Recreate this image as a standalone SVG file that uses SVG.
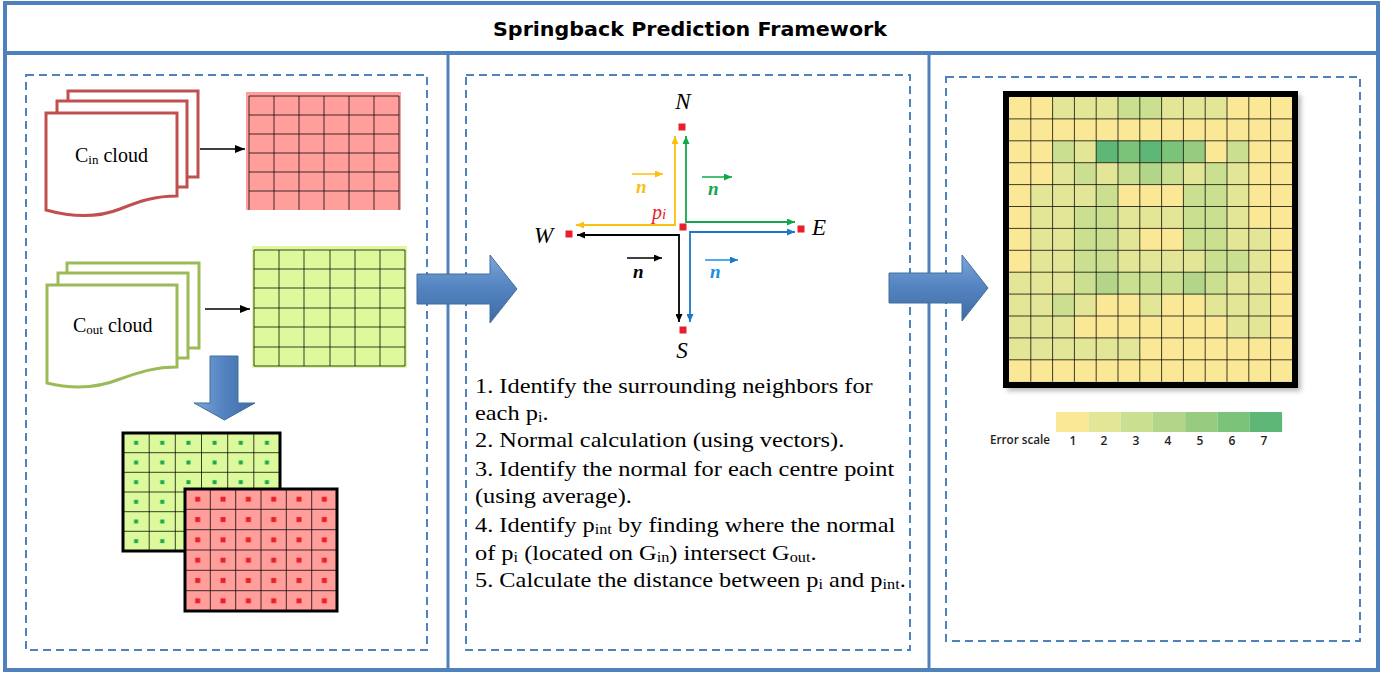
<svg xmlns="http://www.w3.org/2000/svg" width="1386" height="675" viewBox="0 0 1386 675">
<style>
.frame{fill:none;stroke:#4f81bd;stroke-width:4}
.div{stroke:#4f81bd;stroke-width:3}
.dash{fill:none;stroke:#4f81bd;stroke-width:2;stroke-dasharray:8 5}
.docr{fill:#fff;stroke:#c0504d;stroke-width:3}
.docg{fill:#fff;stroke:#9bbb59;stroke-width:3}
.gl{fill:none;stroke:#000;stroke-opacity:0.75;stroke-width:1}
.serif{font-family:"Liberation Serif","Times New Roman",serif;fill:#000}
.lbl{font-family:"Liberation Serif",serif;font-style:italic;font-size:23px;fill:#000}
.nv{font-family:"Liberation Serif",serif;font-style:italic;font-weight:bold;font-size:19px}
.sq{fill:#e8202a}
.big{fill:url(#blueH);stroke:#41719c;stroke-width:1}
.c1{fill:#fbe896}.c2{fill:#e3e697}.c3{fill:#cbdf91}.c4{fill:#b2d58a}.c5{fill:#97cc80}.c6{fill:#7cc37a}.c7{fill:#5fb777}
.leg{font-family:"Open Sans","Liberation Sans",sans-serif;font-size:12px;font-weight:600;fill:#222}
</style>
<defs>
<linearGradient id="blueH" x1="0" y1="0" x2="0" y2="1">
<stop offset="0" stop-color="#7ea6d9"/><stop offset="0.45" stop-color="#5585c2"/><stop offset="1" stop-color="#3e6ba3"/>
</linearGradient>
<linearGradient id="blueV" x1="0" y1="0" x2="1" y2="0">
<stop offset="0" stop-color="#7ea6d9"/><stop offset="0.45" stop-color="#5585c2"/><stop offset="1" stop-color="#3e6ba3"/>
</linearGradient>
<marker id="mk" viewBox="0 0 10 8" refX="10" refY="4" markerWidth="10" markerHeight="8" markerUnits="userSpaceOnUse" orient="auto"><path d="M0,0 L10,4 L0,8 z" fill="#000"/></marker>
<marker id="my" viewBox="0 0 8 7" refX="8" refY="3.5" markerWidth="8" markerHeight="7" markerUnits="userSpaceOnUse" orient="auto-start-reverse"><path d="M0,0 L8,3.5 L0,7 z" fill="#fbbf10"/></marker>
<marker id="mg" viewBox="0 0 8 7" refX="8" refY="3.5" markerWidth="8" markerHeight="7" markerUnits="userSpaceOnUse" orient="auto-start-reverse"><path d="M0,0 L8,3.5 L0,7 z" fill="#12a84a"/></marker>
<marker id="mb" viewBox="0 0 8 7" refX="8" refY="3.5" markerWidth="8" markerHeight="7" markerUnits="userSpaceOnUse" orient="auto-start-reverse"><path d="M0,0 L8,3.5 L0,7 z" fill="#000"/></marker>
<marker id="mu" viewBox="0 0 8 7" refX="8" refY="3.5" markerWidth="8" markerHeight="7" markerUnits="userSpaceOnUse" orient="auto-start-reverse"><path d="M0,0 L8,3.5 L0,7 z" fill="#1a78cc"/></marker>
<pattern id="dotG" patternUnits="userSpaceOnUse" x="123" y="433" width="26.17" height="19.67"><rect x="11.1" y="7.8" width="4" height="4" fill="#1fa84a"/></pattern>
<pattern id="dotR" patternUnits="userSpaceOnUse" x="185" y="489" width="25.33" height="20.33"><rect x="10.2" y="7.7" width="5" height="5" fill="#e8202a"/></pattern>
<filter id="sh" x="-5%" y="-5%" width="115%" height="115%"><feGaussianBlur stdDeviation="2.5"/></filter>
</defs>

<rect width="1386" height="675" fill="#fff"/>

<g id="frame">
<rect class="frame" x="5" y="3" width="1373" height="667"/>
<line class="frame" x1="5" y1="53" x2="1378" y2="53"/>
<line class="div" x1="448" y1="53" x2="448" y2="670"/>
<line class="div" x1="929" y1="53" x2="929" y2="670"/>
<rect class="dash" x="26" y="75" width="401" height="575"/>
<rect class="dash" x="466" y="75" width="444" height="575"/>
<rect class="dash" x="946" y="77" width="414" height="564"/>
</g>

<g id="title">
<text x="690" y="36" text-anchor="middle" textLength="394" lengthAdjust="spacingAndGlyphs" style="font-family:'DejaVu Sans',sans-serif;font-weight:bold;font-size:20px;fill:#000">Springback Prediction Framework</text>
</g>

<g id="doc-cin">
<rect class="docr" x="68" y="91" width="130" height="86"/>
<rect class="docr" x="57" y="101" width="130" height="86"/>
<path class="docr" d="M46,113 H177 V196 C155,196 140,201 120,209 C100,217 75,218 46,210 Z"/>
<text class="serif" x="75" y="162" font-size="20">C<tspan font-size="13" dy="2">in</tspan><tspan dy="-2"> cloud</tspan></text>
</g>

<g id="grid-cin">
<rect x="246" y="92" width="155" height="118" fill="#ff9e9b"/>
<path class="gl" d="M249,96V210M274,96V210M299,96V210M324,96V210M349,96V210M374,96V210M399,96V210M249,96H399M249,115H399M249,134H399M249,153H399M249,172H399M249,191H399"/>
</g>

<g id="doc-cout">
<rect class="docg" x="67" y="263" width="132" height="85"/>
<rect class="docg" x="58" y="273" width="130" height="85"/>
<path class="docg" d="M47,285 H177 V367 C155,367 140,372 120,379 C100,387 75,390 47,383 Z"/>
<text class="serif" x="73" y="332" font-size="20">C<tspan font-size="13" dy="2">out</tspan><tspan dy="-2"> cloud</tspan></text>
</g>

<g id="grid-cout">
<rect x="252" y="246" width="155" height="122" fill="#dcf99c"/>
<path class="gl" d="M254,250V366M279,250V366M304,250V366M330,250V366M355,250V366M380,250V366M405,250V366M254,250H405M254,269H405M254,288H405M254,308H405M254,327H405M254,347H405M254,366H405"/>
</g>

<g id="grid-overlay">
<rect x="123" y="433" width="157" height="118" fill="#dcf99c"/>
<rect x="123" y="433" width="157" height="118" fill="url(#dotG)"/>
<path class="gl" d="M149.2,433V551M175.3,433V551M201.5,433V551M227.7,433V551M253.8,433V551M123,452.7H280M123,472.3H280M123,492H280M123,511.7H280M123,531.3H280"/>
<rect x="123" y="433" width="157" height="118" fill="none" stroke="#000" stroke-width="3"/>
<rect x="185" y="489" width="152" height="122" fill="#ff9e9b"/>
<rect x="185" y="489" width="152" height="122" fill="url(#dotR)"/>
<path class="gl" d="M210.3,489V611M235.7,489V611M261,489V611M286.3,489V611M311.7,489V611M185,509.3H337M185,529.7H337M185,550H337M185,570.3H337M185,590.7H337"/>
<rect x="185" y="489" width="152" height="122" fill="none" stroke="#000" stroke-width="3"/>
</g>

<g id="compass">
<path d="M675,136 V225 H576" fill="none" stroke="#fbbf10" stroke-width="1.8" marker-start="url(#my)" marker-end="url(#my)"/>
<path d="M686,136 V222 H795" fill="none" stroke="#12a84a" stroke-width="1.8" marker-start="url(#mg)" marker-end="url(#mg)"/>
<path d="M577,235 H679 V322" fill="none" stroke="#000" stroke-width="1.8" marker-start="url(#mb)" marker-end="url(#mb)"/>
<path d="M795,232 H690 V322" fill="none" stroke="#1a78cc" stroke-width="1.8" marker-start="url(#mu)" marker-end="url(#mu)"/>
<rect class="sq" x="678.5" y="123.5" width="7" height="7"/>
<rect class="sq" x="679.5" y="223.5" width="7" height="7"/>
<rect class="sq" x="797.5" y="225.5" width="7" height="7"/>
<rect class="sq" x="565.5" y="230.5" width="7" height="7"/>
<rect class="sq" x="679.5" y="326.5" width="7" height="7"/>
<text class="lbl" x="683" y="109" text-anchor="middle">N</text>
<text class="lbl" x="812" y="235">E</text>
<text class="lbl" x="534" y="243">W</text>
<text class="lbl" x="682" y="358" text-anchor="middle">S</text>
<text x="652" y="219" style="font-family:'Liberation Serif',serif;font-style:italic;font-size:20px;fill:#e8202a">p<tspan font-size="15">i</tspan></text>
<line x1="632" y1="174" x2="663" y2="174" stroke="#fbbf10" stroke-width="1.5" marker-end="url(#my)"/>
<text class="nv" x="636" y="193" fill="#fbbf10">n</text>
<line x1="702" y1="177" x2="732" y2="177" stroke="#12a84a" stroke-width="1.5" marker-end="url(#mg)"/>
<text class="nv" x="708" y="195" fill="#12a84a">n</text>
<line x1="627" y1="258" x2="662" y2="258" stroke="#000" stroke-width="1.5" marker-end="url(#mb)"/>
<text class="nv" x="633" y="278" fill="#000">n</text>
<line x1="705" y1="260" x2="738" y2="260" stroke="#1a8fe0" stroke-width="1.5" marker-end="url(#mu)"/>
<text class="nv" x="710" y="278" fill="#1a8fe0">n</text>
</g>

<g id="steps" transform="translate(475 0) scale(1.16 1)">
<text class="serif" font-size="21" x="0" y="393">1. Identify the surrounding neighbors for</text>
<text class="serif" font-size="21" x="0" y="420">each p<tspan font-size="14" dy="2">i</tspan><tspan dy="-2">.</tspan></text>
<text class="serif" font-size="21" x="0" y="447">2. Normal calculation (using vectors).</text>
<text class="serif" font-size="21" x="0" y="476">3. Identify the normal for each centre point</text>
<text class="serif" font-size="21" x="0" y="503">(using average).</text>
<text class="serif" font-size="21" x="0" y="532">4. Identify p<tspan font-size="14" dy="2">int</tspan><tspan dy="-2"> by finding where the normal</tspan></text>
<text class="serif" font-size="21" x="0" y="560">of p<tspan font-size="14" dy="2">i</tspan><tspan dy="-2"> (located on G</tspan><tspan font-size="14" dy="2">in</tspan><tspan dy="-2">) intersect G</tspan><tspan font-size="14" dy="2">out</tspan><tspan dy="-2">.</tspan></text>
<text class="serif" font-size="21" x="0" y="587">5. Calculate the distance between p<tspan font-size="14" dy="2">i</tspan><tspan dy="-2"> and p</tspan><tspan font-size="14" dy="2">int</tspan><tspan dy="-2">.</tspan></text>
</g>

<g id="heatmap">
<rect x="1007" y="95" width="294" height="296" fill="#888" opacity="0.6" filter="url(#sh)"/>
<rect x="1009" y="97" width="283.4" height="284.7" class="c1"/>
<g>
<rect class="c2" x="1052.6" y="97" width="21.8" height="21.9"/><rect class="c2" x="1074.4" y="97" width="21.8" height="21.9"/><rect class="c2" x="1096.2" y="97" width="21.8" height="21.9"/><rect class="c3" x="1118" y="97" width="21.8" height="21.9"/><rect class="c3" x="1139.8" y="97" width="21.8" height="21.9"/><rect class="c2" x="1161.6" y="97" width="21.8" height="21.9"/><rect class="c2" x="1183.4" y="97" width="21.8" height="21.9"/><rect class="c2" x="1205.2" y="97" width="21.8" height="21.9"/>
<rect class="c3" x="1052.6" y="140.8" width="21.8" height="21.9"/><rect class="c2" x="1074.4" y="140.8" width="21.8" height="21.9"/><rect class="c7" x="1096.2" y="140.8" width="21.8" height="21.9"/><rect class="c6" x="1118" y="140.8" width="21.8" height="21.9"/><rect class="c7" x="1139.8" y="140.8" width="21.8" height="21.9"/><rect class="c6" x="1161.6" y="140.8" width="21.8" height="21.9"/><rect class="c5" x="1183.4" y="140.8" width="21.8" height="21.9"/><rect class="c3" x="1227" y="140.8" width="21.8" height="21.9"/>
<rect class="c2" x="1052.6" y="162.7" width="21.8" height="21.9"/><rect class="c3" x="1074.4" y="162.7" width="21.8" height="21.9"/><rect class="c2" x="1096.2" y="162.7" width="21.8" height="21.9"/><rect class="c3" x="1118" y="162.7" width="21.8" height="21.9"/><rect class="c4" x="1139.8" y="162.7" width="21.8" height="21.9"/><rect class="c3" x="1161.6" y="162.7" width="21.8" height="21.9"/><rect class="c2" x="1183.4" y="162.7" width="21.8" height="21.9"/><rect class="c3" x="1205.2" y="162.7" width="21.8" height="21.9"/><rect class="c2" x="1227" y="162.7" width="21.8" height="21.9"/>
<rect class="c2" x="1030.8" y="184.6" width="21.8" height="21.9"/><rect class="c2" x="1052.6" y="184.6" width="21.8" height="21.9"/><rect class="c2" x="1074.4" y="184.6" width="21.8" height="21.9"/><rect class="c3" x="1096.2" y="184.6" width="21.8" height="21.9"/><rect class="c3" x="1183.4" y="184.6" width="21.8" height="21.9"/><rect class="c3" x="1205.2" y="184.6" width="21.8" height="21.9"/><rect class="c2" x="1227" y="184.6" width="21.8" height="21.9"/>
<rect class="c2" x="1030.8" y="206.5" width="21.8" height="21.9"/><rect class="c2" x="1052.6" y="206.5" width="21.8" height="21.9"/><rect class="c3" x="1074.4" y="206.5" width="21.8" height="21.9"/><rect class="c3" x="1096.2" y="206.5" width="21.8" height="21.9"/><rect class="c2" x="1118" y="206.5" width="21.8" height="21.9"/><rect class="c2" x="1139.8" y="206.5" width="21.8" height="21.9"/><rect class="c2" x="1161.6" y="206.5" width="21.8" height="21.9"/><rect class="c3" x="1183.4" y="206.5" width="21.8" height="21.9"/><rect class="c3" x="1205.2" y="206.5" width="21.8" height="21.9"/><rect class="c2" x="1227" y="206.5" width="21.8" height="21.9"/>
<rect class="c2" x="1030.8" y="228.4" width="21.8" height="21.9"/><rect class="c2" x="1052.6" y="228.4" width="21.8" height="21.9"/><rect class="c3" x="1074.4" y="228.4" width="21.8" height="21.9"/><rect class="c3" x="1096.2" y="228.4" width="21.8" height="21.9"/><rect class="c2" x="1118" y="228.4" width="21.8" height="21.9"/><rect class="c3" x="1183.4" y="228.4" width="21.8" height="21.9"/><rect class="c3" x="1205.2" y="228.4" width="21.8" height="21.9"/><rect class="c2" x="1227" y="228.4" width="21.8" height="21.9"/><rect class="c2" x="1248.8" y="228.4" width="21.8" height="21.9"/>
<rect class="c2" x="1030.8" y="250.3" width="21.8" height="21.9"/><rect class="c2" x="1052.6" y="250.3" width="21.8" height="21.9"/><rect class="c3" x="1074.4" y="250.3" width="21.8" height="21.9"/><rect class="c3" x="1096.2" y="250.3" width="21.8" height="21.9"/><rect class="c2" x="1118" y="250.3" width="21.8" height="21.9"/><rect class="c2" x="1139.8" y="250.3" width="21.8" height="21.9"/><rect class="c2" x="1161.6" y="250.3" width="21.8" height="21.9"/><rect class="c2" x="1183.4" y="250.3" width="21.8" height="21.9"/><rect class="c3" x="1205.2" y="250.3" width="21.8" height="21.9"/><rect class="c3" x="1227" y="250.3" width="21.8" height="21.9"/><rect class="c2" x="1248.8" y="250.3" width="21.8" height="21.9"/>
<rect class="c2" x="1009" y="272.2" width="21.8" height="21.9"/><rect class="c2" x="1030.8" y="272.2" width="21.8" height="21.9"/><rect class="c2" x="1052.6" y="272.2" width="21.8" height="21.9"/><rect class="c3" x="1074.4" y="272.2" width="21.8" height="21.9"/><rect class="c4" x="1096.2" y="272.2" width="21.8" height="21.9"/><rect class="c3" x="1118" y="272.2" width="21.8" height="21.9"/><rect class="c3" x="1139.8" y="272.2" width="21.8" height="21.9"/><rect class="c3" x="1161.6" y="272.2" width="21.8" height="21.9"/><rect class="c4" x="1183.4" y="272.2" width="21.8" height="21.9"/><rect class="c3" x="1205.2" y="272.2" width="21.8" height="21.9"/><rect class="c2" x="1227" y="272.2" width="21.8" height="21.9"/><rect class="c2" x="1248.8" y="272.2" width="21.8" height="21.9"/>
<rect class="c2" x="1009" y="294.1" width="21.8" height="21.9"/><rect class="c2" x="1030.8" y="294.1" width="21.8" height="21.9"/><rect class="c3" x="1052.6" y="294.1" width="21.8" height="21.9"/><rect class="c2" x="1074.4" y="294.1" width="21.8" height="21.9"/><rect class="c2" x="1139.8" y="294.1" width="21.8" height="21.9"/><rect class="c2" x="1205.2" y="294.1" width="21.8" height="21.9"/><rect class="c2" x="1227" y="294.1" width="21.8" height="21.9"/><rect class="c2" x="1248.8" y="294.1" width="21.8" height="21.9"/>
<rect class="c2" x="1009" y="316" width="21.8" height="21.9"/><rect class="c2" x="1030.8" y="316" width="21.8" height="21.9"/><rect class="c2" x="1052.6" y="316" width="21.8" height="21.9"/><rect class="c2" x="1227" y="316" width="21.8" height="21.9"/><rect class="c2" x="1248.8" y="316" width="21.8" height="21.9"/>
<rect class="c2" x="1009" y="337.9" width="21.8" height="21.9"/><rect class="c2" x="1030.8" y="337.9" width="21.8" height="21.9"/><rect class="c2" x="1052.6" y="337.9" width="21.8" height="21.9"/><rect class="c2" x="1074.4" y="337.9" width="21.8" height="21.9"/><rect class="c2" x="1096.2" y="337.9" width="21.8" height="21.9"/><rect class="c2" x="1118" y="337.9" width="21.8" height="21.9"/>
</g>
<path class="gl" d="M1030.8,97V381.7M1052.6,97V381.7M1074.4,97V381.7M1096.2,97V381.7M1118,97V381.7M1139.8,97V381.7M1161.6,97V381.7M1183.4,97V381.7M1205.2,97V381.7M1227,97V381.7M1248.8,97V381.7M1270.6,97V381.7M1009,118.9H1292.4M1009,140.8H1292.4M1009,162.7H1292.4M1009,184.6H1292.4M1009,206.5H1292.4M1009,228.4H1292.4M1009,250.3H1292.4M1009,272.2H1292.4M1009,294.1H1292.4M1009,316H1292.4M1009,337.9H1292.4M1009,359.8H1292.4"/>
<rect x="1006" y="94" width="289" height="291" fill="none" stroke="#000" stroke-width="6"/>
</g>

<g id="legend">
<rect class="c1" x="1056" y="412" width="32.3" height="20"/>
<rect class="c2" x="1088.3" y="412" width="32.3" height="20"/>
<rect class="c3" x="1120.6" y="412" width="32.3" height="20"/>
<rect class="c4" x="1152.9" y="412" width="32.3" height="20"/>
<rect class="c5" x="1185.2" y="412" width="32.3" height="20"/>
<rect class="c6" x="1217.5" y="412" width="32.3" height="20"/>
<rect class="c7" x="1249.8" y="412" width="32.3" height="20"/>
<text class="leg" x="990" y="444" textLength="60" lengthAdjust="spacingAndGlyphs">Error scale</text>
<g class="leg" text-anchor="middle">
<text x="1073" y="445">1</text><text x="1104" y="445">2</text><text x="1136" y="445">3</text><text x="1168" y="445">4</text><text x="1200" y="445">5</text><text x="1232" y="445">6</text><text x="1264" y="445">7</text>
</g>
</g>

<g id="connectors">
<line x1="200" y1="149" x2="245" y2="149" stroke="#000" stroke-width="1.3" marker-end="url(#mk)"/>
<line x1="205" y1="309" x2="250" y2="309" stroke="#000" stroke-width="1.3" marker-end="url(#mk)"/>
<path d="M210,356 H238 V403 H255 L224.5,420 L194,403 H210 Z" fill="url(#blueV)" stroke="#41719c" stroke-width="1"/>
<path class="big" d="M417,274 H490 V255 L517,289 L490,323 V304 H417 Z"/>
<path class="big" d="M889,273 H962 V255 L988,288 L962,321 V303 H889 Z"/>
</g>
</svg>
